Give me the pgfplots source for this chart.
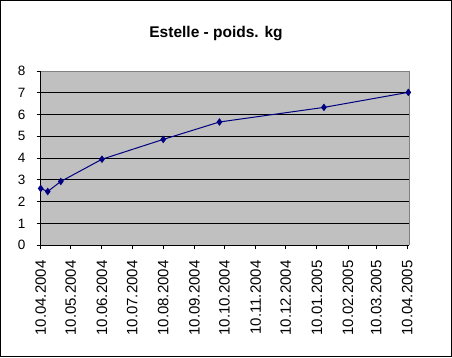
\documentclass[border=0pt]{standalone}
\usepackage{pgfplots}
\pgfplotsset{compat=1.18}
\usepackage{fontspec}
\setmainfont{Liberation Sans}
\definecolor{plotgray}{HTML}{C0C0C0}
\definecolor{framegray}{HTML}{808080}
\definecolor{navyline}{HTML}{000080}
\begin{document}
\begin{tikzpicture}[x=1bp,y=1bp]
\useasboundingbox (0,0) rectangle (452,357);
\draw[black, line width=1bp] (0.5,0.5) rectangle (451.5,356.5);
\node[anchor=base, font=\fontsize{15.5bp}{17bp}\selectfont\bfseries] at (216,319.7) {Estelle - poids. kg};
\begin{axis}[
  at={(40.7bp,111.7bp)}, anchor=south west,
  scale only axis, width=368.6bp, height=174.3bp,
  xmin=0, xmax=367, ymin=0, ymax=8,
  axis background/.style={fill=plotgray},
  axis line style={draw=none},
  ymajorgrids, major grid style={black, line width=1bp},
  ytick={0,1,...,8},
  xtick={0,30,61,91,122,153,183,214,244,275,306,334,365},
  xticklabels={10.04.2004,10.05.2004,10.06.2004,10.07.2004,10.08.2004,10.09.2004,10.10.2004,10.11.2004,10.12.2004,10.01.2005,10.02.2005,10.03.2005,10.04.2005},
  tick pos=left, tick align=outside,
  major tick length=4bp,
  tick style={black, line width=1bp},
  /pgf/number format/assume math mode=true,
  yticklabel style={font=\fontsize{13.5bp}{15bp}\selectfont, inner sep=0pt, anchor=east},
  yticklabel shift=11bp,
  xticklabel style={font=\fontsize{15bp}{17bp}\selectfont, yshift=-11bp, rotate=90, anchor=east, inner sep=0pt},
  clip=false,
]
\addplot[navyline, line width=1bp, mark=diamond*, mark size=3bp, mark options={fill=navyline, draw=navyline}] coordinates {
  (0,2.61) (7,2.47) (20,2.93) (61,3.95) (122,4.86) (178,5.66) (282,6.33) (366,7.02)
};
\draw[framegray, line width=1bp] (rel axis cs:0,1) -- (rel axis cs:1,1) -- (rel axis cs:1,0);
\draw[black, line width=1bp] (rel axis cs:0,1) -- (rel axis cs:0,0) -- (rel axis cs:1,0);
\end{axis}
\end{tikzpicture}
\end{document}
